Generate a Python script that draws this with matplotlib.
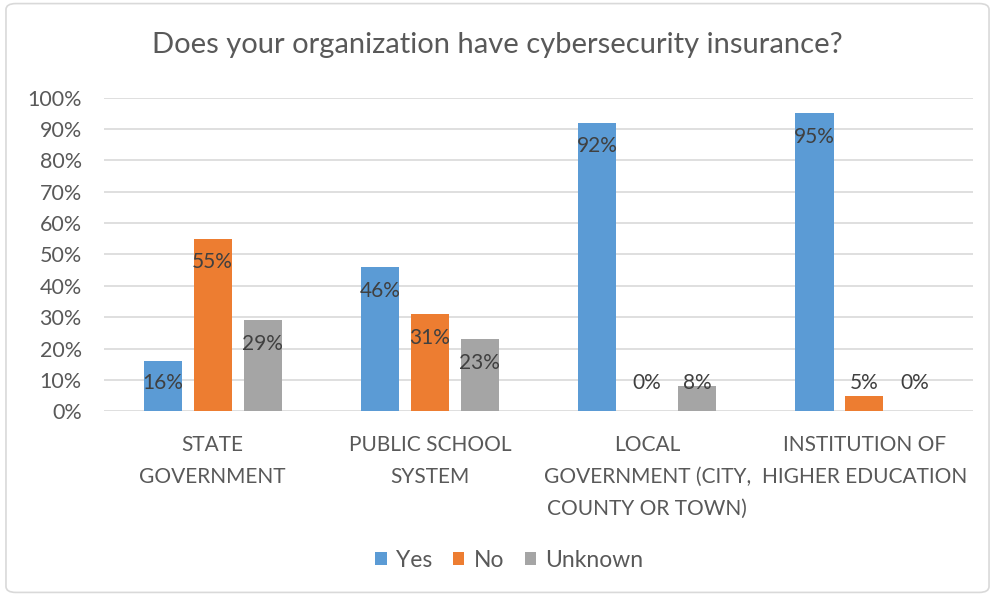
import numpy as np
import matplotlib.pyplot as plt
from matplotlib.patches import FancyBboxPatch

# Survey data (percent)
categories = ["STATE\nGOVERNMENT", "PUBLIC SCHOOL\nSYSTEM",
              "LOCAL\nGOVERNMENT (CITY,\nCOUNTY OR TOWN)",
              "INSTITUTION OF\nHIGHER EDUCATION"]
series_names = ["Yes", "No", "Unknown"]
yes = [16, 46, 92, 95]
no = [55, 31, 0, 5]
unknown = [29, 23, 8, 0]
colors = ["#5B9BD5", "#ED7D31", "#A5A5A5"]

plt.rcParams['font.family'] = ['Lato', 'DejaVu Sans']
text_color = "#595959"

fig = plt.figure(figsize=(9.95, 5.96), dpi=100)
ax = fig.add_axes([0.1045, 0.310, 0.8735, 0.526])

x = np.arange(len(categories))
width = 0.175
offsets = [-0.23, 0, 0.23]
for vals, name, col, off in zip([yes, no, unknown], series_names, colors, offsets):
    ax.bar(x + off, vals, width, color=col, label=name, zorder=2)
    for xi, v in zip(x + off, vals):
        ax.text(xi, max(v - 7.5, 9), f"{v}%", ha="center", va="center",
                fontsize=15, color="#404040", zorder=3)

ax.set_ylim(0, 100)
ax.set_xlim(-0.5, len(categories) - 0.5)
ax.set_yticks(np.arange(0, 101, 10))
ax.set_yticklabels([f"{t}%" for t in range(0, 101, 10)])
ax.set_xticks(x)
ax.set_xticklabels(categories, linespacing=1.75)
ax.tick_params(axis="both", length=0, colors=text_color)
ax.tick_params(axis="y", pad=16, labelsize=15.5)
ax.tick_params(axis="x", pad=17, labelsize=15)
ax.grid(axis="y", color="#D9D9D9", linewidth=1.2, zorder=0)
for s in ax.spines.values():
    s.set_visible(False)

fig.text(0.5, 0.925, "Does your organization have cybersecurity insurance?",
         ha="center", va="center", fontsize=21, color=text_color)

fig.legend(loc="center", bbox_to_anchor=(0.512, 0.06), ncol=3, frameon=False,
           fontsize=16.5, handlelength=0.5, handleheight=0.5, columnspacing=0.9,
           handletextpad=0.4, labelcolor=text_color)

border = FancyBboxPatch((0.006, 0.006), 0.988, 0.988, boxstyle="round,pad=0,rounding_size=0.01",
                        transform=fig.transFigure, fill=False, edgecolor="#D9D9D9", linewidth=1.2)
fig.patches.append(border)

fig.savefig("out.png", dpi=100)
